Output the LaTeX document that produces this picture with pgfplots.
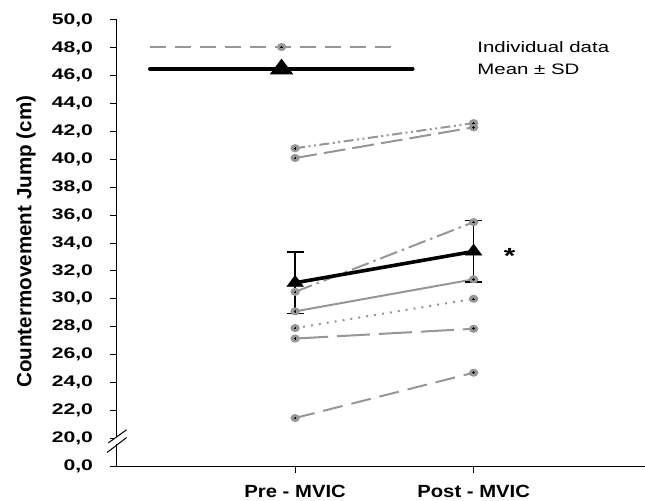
\documentclass[border=0pt]{standalone}
\usepackage{fontspec}
\setmainfont[FakeStretch=1.35]{Liberation Sans}
\newfontfamily\ytf[FakeStretch=1.38]{Liberation Sans}
\newfontfamily\xtf[FakeStretch=1.15]{Liberation Sans}
\newfontfamily\ylf{Liberation Sans}
\usepackage{pgfplots}
\pgfplotsset{compat=1.18}
\usepackage{pgfplotstable}
\definecolor{indc}{RGB}{150,150,150}

\pgfplotstableread{
x s1 s2 s3 s4 s5 s6 s7
1 40.8 40.1 30.5 29.1 27.9 27.15 21.45
2 42.6 42.3 35.5 31.4 30.0 27.85 24.7
}\indiv

\pgfplotstableread{
x m sd
1 31.15 2.2
2 33.4 2.2
}\meantab

\pgfplotsset{
  indline/.style={indc, line width=2bp, mark=*, mark size=3bp,
    mark options={solid, fill=indc, draw=indc, xscale=1.2}},
  inddot/.style={only marks, black, mark=+, mark size=1.3bp, mark options={line width=0.6bp}},
}

\begin{document}
\begin{tikzpicture}
\begin{axis}[
  scale only axis, width=528.7bp, height=446.4bp,
  xmin=0, xmax=2.96, ymin=18, ymax=50,
  axis x line*=bottom, axis y line*=left,
  axis line style={-, line width=1.1bp, black},
  xtick={1,2}, xticklabels={Pre - MVIC, Post - MVIC},
  xticklabel style={font=\xtf\bfseries\fontsize{17.7}{20}\selectfont, anchor=north, inner sep=0pt, yshift=-12bp},
  ytick={18,20,...,50},
  yticklabels={{0,0},{20,0},{22,0},{24,0},{26,0},{28,0},{30,0},{32,0},{34,0},{36,0},{38,0},{40,0},{42,0},{44,0},{46,0},{48,0},{50,0}},
  yticklabel style={font=\ytf\bfseries\fontsize{15.4}{18}\selectfont, anchor=east, inner sep=0pt, xshift=-16.5bp},
  tick align=outside, major tick length=7bp, tick style={black, line width=1bp},
  ylabel={Countermovement Jump (cm)},
  ylabel style={font=\ylf\bfseries\fontsize{20.7}{24}\selectfont, at={(axis description cs:-0.1716,0.503)}, anchor=center},
  clip=false,
]
\coordinate (SW) at (rel axis cs:0,0);
\coordinate (NE) at (rel axis cs:1,1);

% individual data
\addplot[indline, dash pattern=on 10bp off 3.5bp on 2bp off 3.5bp on 2bp off 3.5bp] table[x=x,y=s1]{\indiv};
\addplot[indline, dash pattern=on 22bp off 7bp] table[x=x,y=s2]{\indiv};
\addplot[indline, dash pattern=on 18bp off 5bp on 2.5bp off 5bp] table[x=x,y=s3]{\indiv};
\addplot[indline] table[x=x,y=s4]{\indiv};
\addplot[indline, dash pattern=on 2bp off 6bp] table[x=x,y=s5]{\indiv};
\addplot[indline, dash pattern=on 33bp off 9bp] table[x=x,y=s6]{\indiv};
\addplot[indline, dash pattern=on 20bp off 9bp] table[x=x,y=s7]{\indiv};
\foreach \c in {s1,s2,s3,s4,s5,s6,s7}{
  \addplot[inddot] table[x=x,y=\c]{\indiv};
}

% mean +- SD
\addplot[black, line width=3.6bp, mark=triangle*, mark size=7.3bp,
  mark options={solid, fill=black, line width=0.5bp, xscale=1.3},
  error bars/.cd, y dir=both, y explicit,
  error bar style={line width=1.4bp, black},
  error mark options={rotate=90, mark size=8.5bp, line width=1.4bp, black}]
  table[x=x, y=m, y error=sd]{\meantab};

% legend
\addplot[indc, line width=2bp, dash pattern=on 16bp off 9bp, mark=*, mark indices={2}, mark size=3bp,
  mark options={solid, fill=indc, draw=indc, xscale=1.2}]
  coordinates {(0.186,48.06) (0.924,48.06) (1.568,48.06)};
\addplot[inddot, mark indices={2}] coordinates {(0.186,48.06) (0.924,48.06) (1.568,48.06)};
\addplot[black, line width=3.6bp, line cap=round, mark=triangle*, mark indices={2}, mark size=7.3bp,
  mark options={solid, fill=black, xscale=1.3}]
  coordinates {(0.186,46.49) (0.924,46.49) (1.659,46.49)};
\node[anchor=west, inner sep=0pt, font=\fontsize{15.2}{18}\selectfont] at (axis cs:2.02,48.06) {Individual data};
\node[anchor=west, inner sep=0pt, font=\fontsize{15.2}{18}\selectfont] at (axis cs:2.02,46.49) {Mean ± SD};

% significance
\node[anchor=base, inner sep=0pt, font=\bfseries\fontsize{22}{24}\selectfont] at (axis cs:2.202,32.55) {*};

% axis break
\draw[white, line width=3bp] (axis cs:0,19.6) -- (axis cs:0,20.12);
\draw[black, line width=1bp] (axis cs:-0.047,19.66) -- (axis cs:0.056,20.61);
\draw[black, line width=1bp] (axis cs:-0.053,18.98) -- (axis cs:0.056,20.05);
\end{axis}
\pgfresetboundingbox
\path ([shift={(-116.7bp,-34bp)}]SW) rectangle ([shift={(0bp,20bp)}]NE);
\end{tikzpicture}
\end{document}
